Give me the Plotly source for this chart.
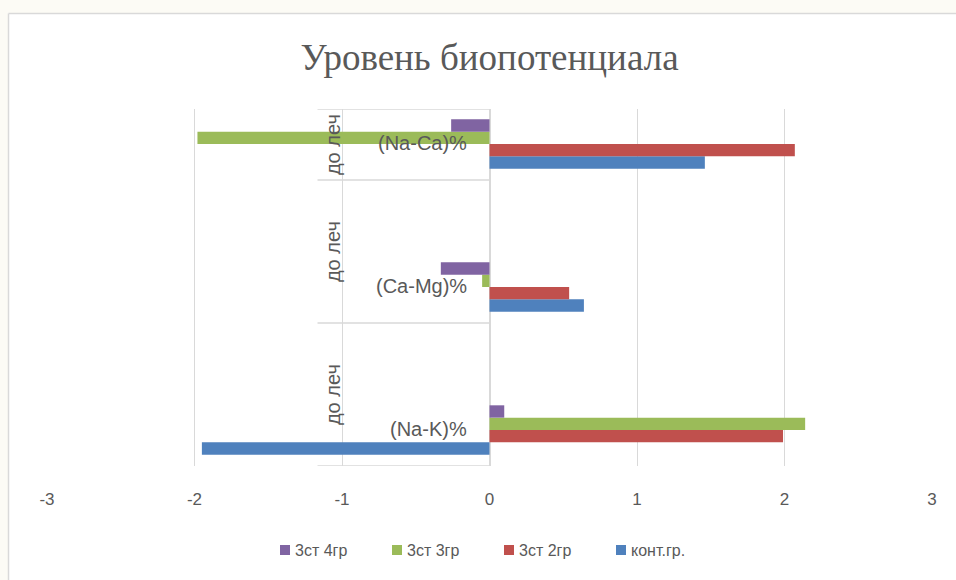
import plotly.graph_objects as go

# Indicator categories, bottom to top
categories = ["(Na-K)%", "(Ca-Mg)%", "(Na-Ca)%"]
group_label = "до леч"

series_names = ["конт.гр.", "3ст 2гр", "3ст 3гр", "3ст 4гр"]
kont_gr = [-1.95, 0.64, 1.46]
st3_gr2 = [1.99, 0.54, 2.07]
st3_gr3 = [2.14, -0.05, -1.98]
st3_gr4 = [0.10, -0.33, -0.26]

x_ticks = [-3, -2, -1, 0, 1, 2, 3]
x_tick_text = ["-3", "-2", "-1", "0", "1", "2", "3"]

colors = ["#4f81bd", "#c0504d", "#9bbb59", "#8064a2"]
values = [kont_gr, st3_gr2, st3_gr3, st3_gr4]

W, H = 956, 580
L, R, T, B = 47, 24, 109, 114
TEXT = "#595959"
GRID = "#d9d9d9"
FONT = "Liberation Sans"

pos = list(range(len(categories)))
y_lo, y_hi = -0.252, 2.245

fig = go.Figure()
for name, vals, col in zip(series_names, values, colors):
    fig.add_trace(go.Bar(
        y=pos, x=vals, name=name, orientation="h",
        marker=dict(color=col, line=dict(width=0)),
        showlegend=False,
    ))

# paper-coordinate helpers (pixels -> paper fraction)
pw, ph = W - L - R, H - T - B


def px_x(p):
    return (p - L) / pw


def px_y(p):
    return (H - B - p) / ph


shapes = [
    # page background strips around the chart frame
    dict(type="rect", xref="paper", yref="paper", x0=px_x(0), x1=px_x(W), y0=px_y(0), y1=px_y(13),
         fillcolor="#fcfbf5", line=dict(width=0), layer="below"),
    dict(type="rect", xref="paper", yref="paper", x0=px_x(0), x1=px_x(8), y0=px_y(0), y1=px_y(H),
         fillcolor="#fcfbf5", line=dict(width=0), layer="below"),
    # chart frame edges
    dict(type="line", xref="paper", yref="paper", x0=px_x(8.5), x1=px_x(W + 5), y0=px_y(13.5), y1=px_y(13.5),
         line=dict(color=GRID, width=1.5)),
    dict(type="line", xref="paper", yref="paper", x0=px_x(8.5), x1=px_x(8.5), y0=px_y(13.5), y1=px_y(H + 5),
         line=dict(color=GRID, width=1.5)),
]

# category separators of the two-level axis
x_sep = -1.166
for b in [y_lo + i for i in range(len(categories) + 1)]:
    yb = min(b, y_hi)
    shapes.append(dict(type="line", xref="x", yref="y", x0=x_sep, x1=0, y0=yb, y1=yb,
                       line=dict(color=GRID, width=1.5)))

annotations = []
for i, c in enumerate(categories):
    annotations.append(dict(x=0, y=i, xref="x", yref="y", text=c, showarrow=False,
                            xanchor="right", xshift=-21, yshift=1,
                            font=dict(family=FONT, size=20, color=TEXT)))
    lo = y_lo + i
    hi = min(lo + 1, y_hi)
    annotations.append(dict(x=-1.064, y=(lo + hi) / 2, xref="x", yref="y", text=group_label,
                            showarrow=False, textangle=-90,
                            font=dict(family=FONT, size=20, color=TEXT)))

# legend: coloured squares with labels, listed in reverse series order
legend_x = [280, 392, 504, 616]
for lx, name, col in zip(legend_x, series_names[::-1], colors[::-1]):
    shapes.append(dict(type="rect", xref="paper", yref="paper",
                       x0=px_x(lx), x1=px_x(lx + 10), y0=px_y(555), y1=px_y(545),
                       fillcolor=col, line=dict(width=0)))
    annotations.append(dict(x=px_x(lx + 13), y=px_y(550), xref="paper", yref="paper",
                            text=name, showarrow=False, xanchor="left", yanchor="middle",
                            font=dict(family=FONT, size=16, color=TEXT)))

fig.update_layout(
    width=W, height=H,
    margin=dict(l=L, r=R, t=T, b=B),
    paper_bgcolor="white", plot_bgcolor="white",
    title=dict(text="Уровень биопотенциала", x=0.5, xref="paper", xanchor="center",
               y=1 - 57 / H, yanchor="middle",
               font=dict(family="Liberation Serif", size=37, color=TEXT)),
    barmode="group", bargap=0.655, bargroupgap=0,
    xaxis=dict(range=[-3, 3], tickvals=x_ticks, ticktext=x_tick_text,
               showgrid=True, gridcolor=GRID, gridwidth=1,
               zeroline=True, zerolinecolor=GRID, zerolinewidth=1.5,
               showline=False, ticks="", ticklabelstandoff=21,
               tickfont=dict(family=FONT, size=17, color=TEXT)),
    yaxis=dict(range=[y_lo, y_hi], showticklabels=False, showgrid=False, zeroline=False,
               showline=False, ticks=""),
    showlegend=False,
    shapes=shapes,
    annotations=annotations,
)

fig.write_html("out.html")
